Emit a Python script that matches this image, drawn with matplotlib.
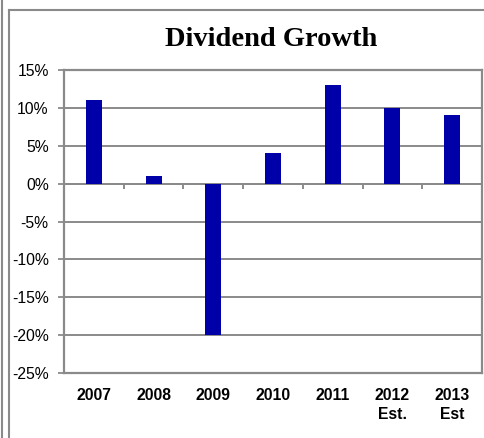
import numpy as np
import matplotlib
matplotlib.use("Agg")
import matplotlib.pyplot as plt
from matplotlib.lines import Line2D
from matplotlib.ticker import FuncFormatter

years = ["2007", "2008", "2009", "2010", "2011", "2012\nEst.", "2013\nEst"]
growth = [11, 1, -20, 4, 13, 10, 9]
y_ticks = [15, 10, 5, 0, -5, -10, -15, -20, -25]

W, H = 485, 438
GRAY = "#8a8a8a"
BAR = "#0000a8"

fig = plt.figure(figsize=(W / 100, H / 100), dpi=100)
ax = fig.add_axes([64 / W, 1 - 373 / H, (482 - 64) / W, (373 - 70) / H])

x = np.arange(len(years))
ax.bar(x, growth, width=0.27, color=BAR, zorder=3)

ax.set_xlim(-0.5, len(years) - 0.5)
ax.set_ylim(-25, 15)
ax.set_yticks(y_ticks)
ax.yaxis.set_major_formatter(FuncFormatter(lambda v, p: f"{v:.0f}%"))
ax.set_xticks(x)
ax.set_xticklabels(years, fontweight="bold", fontsize=11.3, family="Liberation Sans",
                   linespacing=1.3)
for lab in ax.get_yticklabels():
    lab.set_family("Liberation Sans")
ax.tick_params(axis="y", length=4, width=1.3, color=GRAY, pad=7, labelsize=11.3)
ax.tick_params(axis="x", length=0, pad=11)

ax.grid(axis="y", color=GRAY, linewidth=1.4, zorder=1)
for s in ax.spines.values():
    s.set_color(GRAY)
    s.set_linewidth(1.6)

# zero line with category boundary ticks
ax.axhline(0, color=GRAY, linewidth=1.4, zorder=2)
ax.vlines(x[:-1] + 0.5, -0.7, 0, color=GRAY, linewidth=1.4, zorder=2)

fig.text(271 / W, 1 - 40 / H, "Dividend Growth", ha="center", va="center",
         fontsize=20.5, fontweight="bold", family="Liberation Serif")

# outer frame lines
for xs, ys in [([2.5, 2.5], [0, H]), ([9.5, 9.5], [0, H - 9.5]), ([9.5, W], [H - 9.5, H - 9.5])]:
    fig.add_artist(Line2D([v / W for v in xs], [v / H for v in ys],
                          transform=fig.transFigure, color=GRAY, linewidth=1.5))

fig.savefig("out.png", dpi=100)
